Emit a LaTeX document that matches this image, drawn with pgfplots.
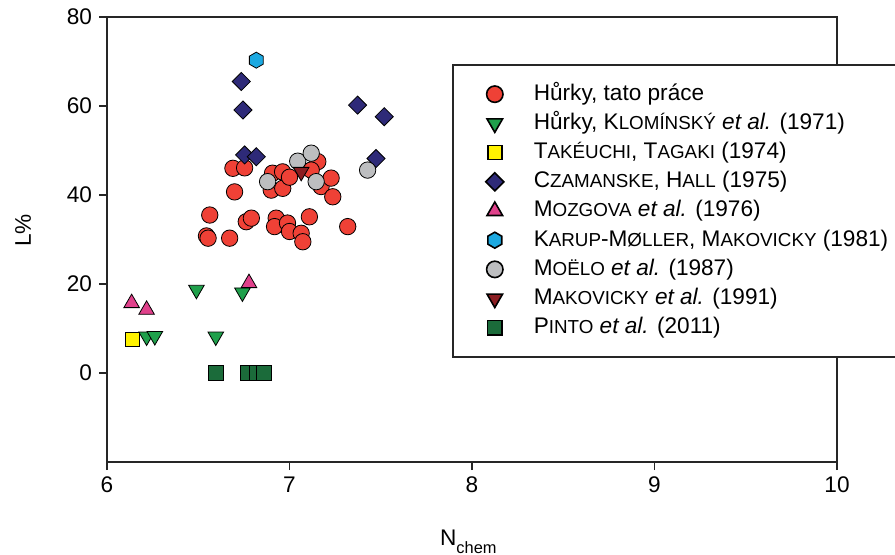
\documentclass[border=0pt]{standalone}
\usepackage{fontspec}
\setmainfont{Liberation Sans}
\usepackage{pgfplots}
\pgfplotsset{compat=1.18}
\definecolor{cred}{HTML}{EF4136}
\definecolor{cgreen}{HTML}{1FA04B}
\definecolor{cyellow}{HTML}{FFF200}
\definecolor{cnavy}{HTML}{2E2A78}
\definecolor{cpink}{HTML}{E0418B}
\definecolor{ccyan}{HTML}{1CA9E1}
\definecolor{cgray}{HTML}{BDBEC0}
\definecolor{cbrown}{HTML}{8B1E22}
\definecolor{cdgreen}{HTML}{1B6B3A}
\definecolor{edge}{HTML}{231F20}
\newcommand\SC[1]{{\fontsize{9.4}{10}\selectfont #1}}
\pgfdeclareplotmark{hexagon*}{%
  \pgfpathmoveto{\pgfpointpolar{90}{\pgfplotmarksize}}%
  \pgfpathlineto{\pgfpointpolar{150}{\pgfplotmarksize}}%
  \pgfpathlineto{\pgfpointpolar{210}{\pgfplotmarksize}}%
  \pgfpathlineto{\pgfpointpolar{270}{\pgfplotmarksize}}%
  \pgfpathlineto{\pgfpointpolar{330}{\pgfplotmarksize}}%
  \pgfpathlineto{\pgfpointpolar{30}{\pgfplotmarksize}}%
  \pgfpathclose
  \pgfusepathqfillstroke}
\begin{document}
\begin{tikzpicture}
\begin{axis}[
  scale only axis, width=365pt, height=222.5pt,
  xmin=6, xmax=10, ymin=-20, ymax=80,
  xtick={6,7,8,9,10}, ytick={0,20,40,60,80},
  tick align=outside, xtick pos=bottom, ytick pos=left,
  major tick length=4pt,
  axis line style={line width=0.8pt, black!85},
  every tick/.style={line width=0.8pt, black!85},
  tick label style={font=\fontsize{11.3}{13}\selectfont},
  /pgf/number format/assume math mode=true,
  xlabel={N\raisebox{-4pt}{\fontsize{8.2}{9}\selectfont chem}},
  ylabel={L\%},
  label style={font=\fontsize{11.3}{13}\selectfont},
  xlabel style={at={(axis description cs:0.495,0)}, anchor=base, yshift=-41.5pt},
  ylabel style={at={(axis description cs:-0.115,0.52)}, anchor=center},
  legend style={at={(rel axis cs:0.4726,0.894)}, anchor=north west,
    draw=black!85, line width=0.8pt, font=\fontsize{11.3}{13}\selectfont,
    inner xsep=13pt, inner ysep=7.3pt, row sep=0pt, column sep=8pt,
    nodes={inner xsep=3.5pt, inner ysep=1.7pt, text height=8.6pt, text depth=2.6pt},
    cells={anchor=west}},
  legend image code/.code={\path[draw=none, fill=none] (0pt,0pt) -- (16pt,0pt);
    \draw[#1, only marks] plot coordinates {(8pt,0pt)};},
  every axis plot/.append style={only marks, mark options={draw=edge, line width=0.6pt}},
]
\coordinate (sw) at (rel axis cs:0,0);
\coordinate (ne) at (rel axis cs:1,1);
\addplot[mark=*, mark size=4.1pt, mark options={fill=cred}] coordinates {
(6.690,46.0) (6.754,46.1) (6.699,40.7) (6.563,35.5) (6.545,30.8) (6.554,30.3) (6.672,30.3)
(6.763,34.0) (6.791,34.8) (6.927,34.8) (6.918,32.9) (6.989,33.7) (7.000,31.8) (7.064,31.4)
(7.073,29.5) (6.900,41.1) (6.963,41.5) (6.907,44.9) (6.962,45.2) (7.000,44.0) (7.155,47.5)
(7.119,45.6) (7.173,41.9) (7.228,43.8) (7.237,39.6) (7.109,35.1) (7.319,32.9)};
\addlegendentry{Hůrky, tato práce}
\addplot[mark=triangle*, mark size=4.5pt, mark options={fill=cgreen, rotate=180}] coordinates {
(6.490,18.7) (6.742,18.1) (6.217,8.2) (6.262,8.3) (6.596,8.2)};
\addlegendentry{Hůrky, K\SC{LOMÍNSKÝ} \textit{et al.} (1971)}
\addplot[mark=square*, mark size=3.5pt, mark options={fill=cyellow}] coordinates {
(6.140,7.6)};
\addlegendentry{T\SC{AKÉUCHI}, T\SC{AGAKI} (1974)}
\addplot[mark=square*, mark size=3.2pt, mark options={fill=cnavy, rotate=45}] coordinates {
(6.736,65.5) (6.745,59.1) (6.754,49.0) (6.818,48.6) (7.373,60.2) (7.519,57.6) (7.474,48.2)};
\addlegendentry{C\SC{ZAMANSKE}, H\SC{ALL} (1975)}
\addplot[mark=triangle*, mark size=4.5pt, mark options={fill=cpink}] coordinates {
(6.135,15.7) (6.217,14.2) (6.778,20.2)};
\addlegendentry{M\SC{OZGOVA} \textit{et al.} (1976)}
\addplot[mark=hexagon*, mark size=4pt, mark options={fill=ccyan}] coordinates {
(6.818,70.3)};
\addlegendentry{K\SC{ARUP}-M\SC{ØLLER}, M\SC{AKOVICKY} (1981)}
\addplot[mark=*, mark size=4.1pt, mark options={fill=cgray}] coordinates {
(6.880,43.0) (7.045,47.6) (7.119,49.4) (7.146,43.0) (7.428,45.6)};
\addlegendentry{M\SC{OËLO} \textit{et al.} (1987)}
\addplot[mark=triangle*, mark size=4.5pt, mark options={fill=cbrown, rotate=180}] coordinates {
(7.064,45.2)};
\addlegendentry{M\SC{AKOVICKY} \textit{et al.} (1991)}
\addplot[mark=square*, mark size=3.6pt, mark options={fill=cdgreen}] coordinates {
(6.596,0) (6.772,0) (6.818,0) (6.860,0)};
\addlegendentry{P\SC{INTO} \textit{et al.} (2011)}
\end{axis}
\pgfresetboundingbox
\path ([shift={(-53.5pt,-46pt)}]sw) rectangle ([shift={(29pt,8.5pt)}]ne);
\end{tikzpicture}
\end{document}
